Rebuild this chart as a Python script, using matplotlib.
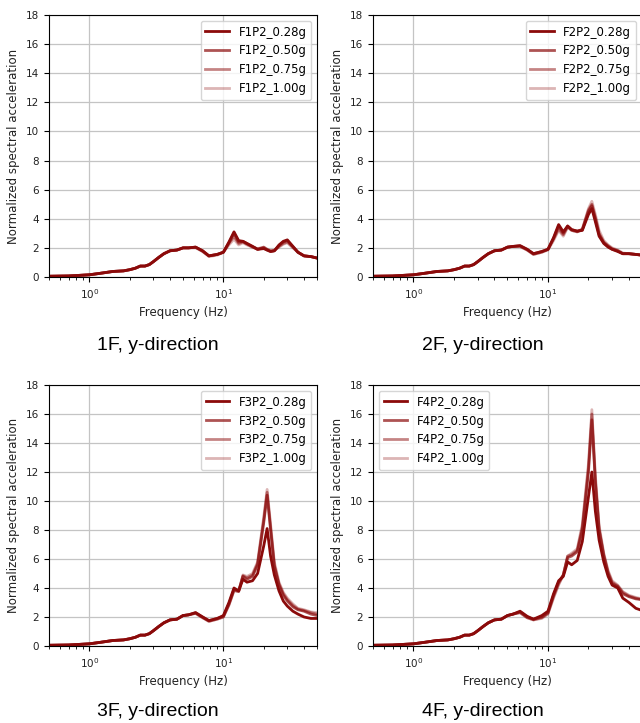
import numpy as np
import matplotlib
matplotlib.use("Agg")
import matplotlib.pyplot as plt

# frequency points (Hz), shared by every record
freq = [0.5, 0.7, 1.0, 1.2, 1.5, 1.8, 2.0, 2.2, 2.4, 2.6,
        2.8, 3.0, 3.3, 3.6, 4.0, 4.5, 5.0, 5.5, 6.2, 7.0,
        7.8, 9.0, 10, 11, 12, 13, 14, 15, 16.5, 18,
        20, 21.2, 22.5, 24, 26, 28, 30, 33, 36, 40,
        45, 50]

levels = ["0.28g", "0.50g", "0.75g", "1.00g"]
floors = ["1F", "2F", "3F", "4F"]

low = [0.05, 0.07, 0.15, 0.25, 0.38, 0.42, 0.5, 0.6, 0.75, 0.75,
       0.85, 1.05, 1.35, 1.6, 1.8, 1.85]

f1_028 = low + [2.0, 2.0, 2.05, 1.8, 1.45, 1.55, 1.7, 2.4, 3.1, 2.5, 2.45, 2.3, 2.1, 1.9,
                1.95, 1.85, 1.75, 1.8, 2.2, 2.45, 2.55, 2.1, 1.7, 1.45, 1.4, 1.3]
f1_050 = low + [2.0, 2.0, 2.05, 1.8, 1.45, 1.55, 1.7, 2.35, 3.0, 2.4, 2.45, 2.3, 2.1, 1.9,
                2.0, 1.85, 1.75, 1.8, 2.15, 2.4, 2.5, 2.1, 1.7, 1.45, 1.4, 1.3]
f1_075 = low + [2.0, 2.0, 2.05, 1.75, 1.45, 1.55, 1.7, 2.3, 2.8, 2.3, 2.4, 2.25, 2.05, 1.9,
                2.05, 1.9, 1.8, 1.8, 2.1, 2.3, 2.4, 2.05, 1.7, 1.45, 1.4, 1.3]
f1_100 = low + [2.0, 2.0, 2.0, 1.75, 1.4, 1.5, 1.7, 2.2, 2.6, 2.2, 2.35, 2.2, 2.05, 1.95,
                2.05, 1.9, 1.8, 1.85, 2.05, 2.25, 2.35, 2.0, 1.7, 1.45, 1.4, 1.3]

f2_028 = low + [2.05, 2.1, 2.15, 1.9, 1.6, 1.75, 1.9, 2.7, 3.6, 3.1, 3.5, 3.25, 3.15, 3.2,
                4.3, 4.7, 3.8, 2.8, 2.3, 2.05, 1.9, 1.75, 1.6, 1.6, 1.55, 1.5]
f2_050 = low + [2.05, 2.1, 2.15, 1.9, 1.6, 1.75, 1.9, 2.65, 3.5, 3.0, 3.5, 3.25, 3.15, 3.25,
                4.5, 4.9, 4.0, 2.9, 2.35, 2.1, 1.9, 1.8, 1.6, 1.6, 1.55, 1.5]
f2_075 = low + [2.05, 2.1, 2.1, 1.85, 1.55, 1.7, 1.9, 2.6, 3.3, 2.9, 3.45, 3.2, 3.1, 3.25,
                4.6, 5.0, 4.1, 3.0, 2.4, 2.15, 1.95, 1.8, 1.6, 1.6, 1.55, 1.5]
f2_100 = low + [2.05, 2.1, 2.1, 1.85, 1.55, 1.7, 1.85, 2.5, 3.2, 2.8, 3.4, 3.2, 3.1, 3.3,
                4.7, 5.2, 4.3, 3.2, 2.5, 2.2, 2.0, 1.85, 1.65, 1.6, 1.55, 1.5]

f3_028 = low + [2.1, 2.15, 2.3, 2.0, 1.75, 1.9, 2.1, 3.0, 4.0, 3.8, 4.6, 4.4, 4.5, 5.0,
                6.9, 8.1, 6.2, 4.9, 3.8, 3.1, 2.75, 2.4, 2.2, 2.0, 1.9, 1.9]
f3_050 = low + [2.1, 2.15, 2.3, 2.0, 1.75, 1.9, 2.05, 2.9, 3.9, 3.8, 4.8, 4.6, 4.8, 5.6,
                8.5, 10.4, 8.0, 5.5, 4.2, 3.5, 3.1, 2.7, 2.5, 2.4, 2.2, 2.1]
f3_075 = low + [2.1, 2.15, 2.25, 1.95, 1.7, 1.85, 2.0, 2.85, 3.85, 3.75, 4.85, 4.7, 4.9, 5.7,
                8.7, 10.6, 8.2, 5.6, 4.3, 3.6, 3.2, 2.8, 2.55, 2.45, 2.3, 2.2]
f3_100 = low + [2.1, 2.15, 2.25, 1.95, 1.7, 1.85, 2.0, 2.8, 3.8, 3.75, 4.9, 4.8, 5.0, 5.8,
                8.9, 10.8, 8.4, 5.8, 4.4, 3.7, 3.3, 2.9, 2.6, 2.5, 2.35, 2.3]

f4_028 = low + [2.1, 2.2, 2.4, 2.05, 1.85, 2.1, 2.4, 3.6, 4.5, 4.8, 5.8, 5.6, 5.9, 7.2,
                10.3, 12.0, 9.3, 7.3, 5.8, 4.8, 4.2, 4.0, 3.3, 3.0, 2.6, 2.45]
f4_050 = low + [2.1, 2.2, 2.35, 2.0, 1.85, 2.0, 2.3, 3.5, 4.4, 4.9, 6.1, 6.2, 6.5, 8.0,
                12.0, 15.6, 11.3, 8.0, 6.2, 5.0, 4.3, 4.1, 3.6, 3.4, 3.25, 3.2]
f4_075 = low + [2.1, 2.2, 2.3, 1.95, 1.8, 1.95, 2.25, 3.4, 4.3, 4.9, 6.2, 6.3, 6.6, 8.2,
                12.3, 16.0, 11.5, 8.1, 6.3, 5.1, 4.4, 4.15, 3.7, 3.45, 3.3, 3.2]
f4_100 = low + [2.1, 2.2, 2.3, 1.95, 1.8, 1.9, 2.2, 3.3, 4.2, 4.9, 6.2, 6.4, 6.7, 8.4,
                12.6, 16.3, 11.8, 8.3, 6.4, 5.2, 4.5, 4.2, 3.75, 3.5, 3.35, 3.25]

records = [[f1_028, f1_050, f1_075, f1_100],
           [f2_028, f2_050, f2_075, f2_100],
           [f3_028, f3_050, f3_075, f3_100],
           [f4_028, f4_050, f4_075, f4_100]]

alphas = [1.0, 0.7, 0.5, 0.3]

fig = plt.figure(figsize=(6.4, 7.23), dpi=100)
positions = [[0.0766, 0.6169, 0.4188, 0.3624],
             [0.5828, 0.6169, 0.4203, 0.3624],
             [0.0766, 0.1065, 0.4188, 0.361],
             [0.5828, 0.1065, 0.4203, 0.361]]
captions_xy = [(0.247, 1 - 345 / 723), (0.755, 1 - 345 / 723),
               (0.247, 1 - 712 / 723), (0.755, 1 - 712 / 723)]

for k in range(4):
    ax = fig.add_axes(positions[k])
    for j in range(4):
        ax.plot(freq, records[k][j], color="#8b0a0a", alpha=alphas[j], lw=2.0,
                label="F%dP2_%s" % (k + 1, levels[j]))
    ax.set_xscale("log")
    ax.set_xlim(0.5, 50)
    ax.set_ylim(0, 18)
    ax.set_yticks(np.arange(0, 19, 2))
    ax.grid(True, which="major", color="#c4c4c4", lw=0.9)
    ax.tick_params(labelsize=7.5, labelcolor="#222222")
    ax.set_xlabel("Frequency (Hz)", fontsize=8.5, color="#222222")
    ax.set_ylabel("Normalized spectral acceleration", fontsize=8.5, color="#222222")
    loc = "upper left" if k == 3 else "upper right"
    ax.legend(loc=loc, fontsize=8.5, framealpha=0.8)
    fig.text(captions_xy[k][0], captions_xy[k][1], "%s, y-direction" % floors[k],
             ha="center", va="center", fontsize=14, family="Liberation Sans")

fig.savefig("out.png", dpi=100)
